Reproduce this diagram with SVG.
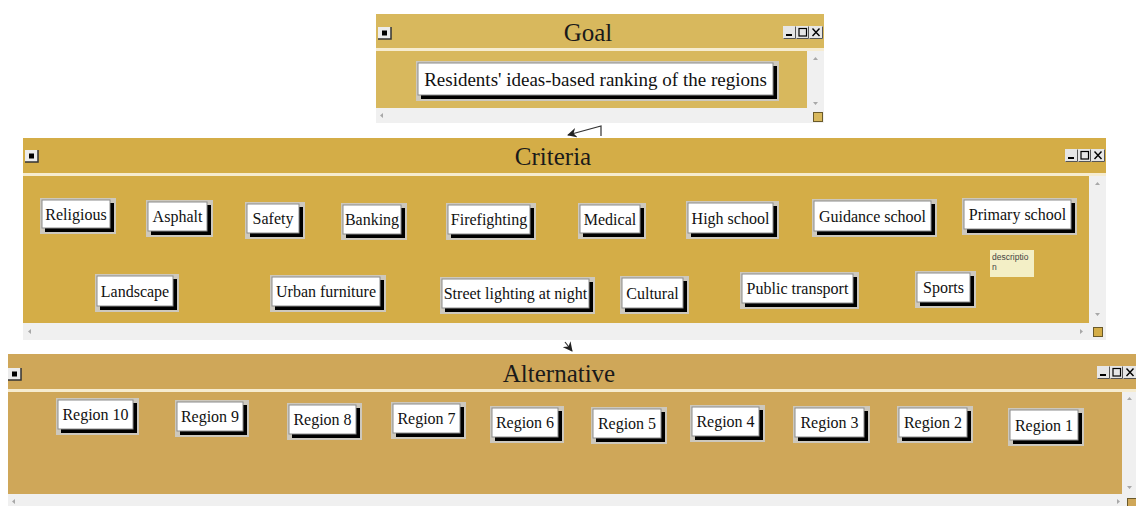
<svg xmlns="http://www.w3.org/2000/svg" width="1136" height="506" viewBox="0 0 1136 506">
<style>
.lbl{font-family:"Liberation Serif","Times New Roman",serif;font-size:16px;fill:#111;text-anchor:middle}
.ttl{font-family:"Liberation Serif","Times New Roman",serif;font-size:25px;fill:#1a1a1a;text-anchor:middle}
.halo{fill:#cdc8bd}
.shadow{fill:#000}
.face{fill:#fff;stroke:#8c8c8c;stroke-width:1}
.sep{fill:#f6ecd0}
.scr{fill:#f0f0f0}
.sarr{fill:#a8a8a8}
.conn{fill:none;stroke:#333;stroke-width:1.2}
.note{fill:#f3efc6}
.notet{font-family:"Liberation Sans",Arial,sans-serif;font-size:8.5px;fill:#444}
</style>
<defs>
<marker id="arr" viewBox="0 0 10 10" refX="9" refY="5" markerWidth="8" markerHeight="8" orient="auto"><path d="M0,0 L10,5 L0,10 L3,5z" fill="#222"/></marker>
<g id="sysbtn">
<rect x="0" y="0" width="13" height="12" fill="#ececec"/>
<path d="M0,12 H13 V0" fill="none" stroke="#333" stroke-width="1.5"/>
<rect x="4" y="3.5" width="5" height="5" fill="#000"/>
</g>
<g id="ctl">
<rect x="0" y="0" width="40" height="13" fill="#e6e6e6"/>
<path d="M0.5,12.5 H12.5 V0.5 M13.5,12.5 H25.5 V0.5 M26.5,12.5 H39.5 V0.5" fill="none" stroke="#555" stroke-width="1"/>
<rect x="3" y="8" width="6" height="2" fill="#000"/>
<rect x="16" y="2.5" width="7.5" height="7.5" fill="none" stroke="#000" stroke-width="1.2"/>
<path d="M29.5,2.5 L36.5,10 M36.5,2.5 L29.5,10" stroke="#000" stroke-width="1.4"/>
</g>
</defs>
<rect width="1136" height="506" fill="#ffffff"/>

<!-- Goal window -->
<g id="win-goal">
<rect x="376" y="14" width="448" height="34" fill="#d8b85d"/>
<rect class="sep" x="376" y="48" width="448" height="3"/>
<rect x="376" y="51" width="431" height="57" fill="#d8b85d"/>
<rect class="scr" x="807" y="51" width="17" height="57"/>
<rect class="scr" x="376" y="108" width="448" height="15"/>
<path class="sarr" d="M813,60 l2.5,-3 l2.5,3z M813,102 l2.5,3 l2.5,-3z M380,115.5 l3,-2.5 v5z M814,113 l3,2.5 l-3,2.5z"/>
<rect x="813.5" y="112.5" width="9" height="9" fill="#d8b85d" stroke="#6a5a2a" stroke-width="1"/>
<use href="#sysbtn" x="378" y="27"/>
<use href="#ctl" x="783" y="26"/>
<text class="ttl" x="588" y="41">Goal</text>
</g>

<!-- Criteria window -->
<g id="win-criteria">
<rect x="23" y="138" width="1083" height="35" fill="#d4ad47"/>
<rect class="sep" x="23" y="173" width="1083" height="3"/>
<rect x="23" y="176" width="1066" height="147" fill="#d4ad47"/>
<rect class="scr" x="1089" y="176" width="17" height="147"/>
<rect class="scr" x="23" y="323" width="1083" height="17"/>
<path class="sarr" d="M1095,185 l2.5,-3 l2.5,3z M1095,313 l2.5,3 l2.5,-3z M28,331.5 l3,-2.5 v5z M1080,329 l3,2.5 l-3,2.5z"/>
<rect x="1093.5" y="327.5" width="9" height="9" fill="#d4ad47" stroke="#6a5a2a" stroke-width="1"/>
<use href="#sysbtn" x="25" y="150"/>
<use href="#ctl" x="1065" y="149"/>
<text class="ttl" x="553" y="165">Criteria</text>
</g>

<!-- Alternative window -->
<g id="win-alternative">
<rect x="8" y="354" width="1128" height="35" fill="#cfa759"/>
<rect class="sep" x="8" y="389" width="1128" height="3"/>
<rect x="8" y="392" width="1114" height="102" fill="#cfa759"/>
<rect class="scr" x="1122" y="392" width="14" height="102"/>
<rect class="scr" x="8" y="494" width="1128" height="12"/>
<path class="sarr" d="M1127,400 l2.5,-3 l2.5,3z M1127,486 l2.5,3 l2.5,-3z M12,501.5 l3,-2.5 v5z M1117,499 l3,2.5 l-3,2.5z"/>
<rect x="1127.5" y="498.5" width="9" height="9" fill="#cfa759" stroke="#6a5a2a" stroke-width="1"/>
<use href="#sysbtn" x="8" y="368"/>
<use href="#ctl" x="1097" y="366"/>
<text class="ttl" x="559" y="382">Alternative</text>
</g>

<!-- Connectors -->
<g id="connectors">
<polyline class="conn" points="601,136 601,126 568,135" marker-end="url(#arr)"/>
<line class="conn" x1="565" y1="342" x2="572" y2="351" marker-end="url(#arr)"/>
</g>

<!-- Goal node -->
<g id="node-goal">
<rect class="halo" x="416" y="61" width="363" height="40"/>
<rect class="shadow" x="421" y="66" width="356" height="33"/>
<rect class="face" x="418" y="63" width="355" height="32"/>
<text class="lbl" style="font-size:19px" x="595.5" y="86">Residents' ideas-based ranking of the regions</text>
</g>

<!-- Criteria nodes -->
<g id="node-religious"><rect class="halo" x="40" y="198" width="76" height="36"/><rect class="shadow" x="45" y="203" width="69" height="29"/><rect class="face" x="42" y="200" width="68" height="28"/><text class="lbl" x="76" y="219.5">Religious</text></g>
<g id="node-asphalt"><rect class="halo" x="146" y="200" width="67" height="37"/><rect class="shadow" x="151" y="205" width="60" height="30"/><rect class="face" x="148" y="202" width="59" height="29"/><text class="lbl" x="177.5" y="222">Asphalt</text></g>
<g id="node-safety"><rect class="halo" x="245" y="202" width="60" height="37"/><rect class="shadow" x="250" y="207" width="53" height="30"/><rect class="face" x="247" y="204" width="52" height="29"/><text class="lbl" x="273" y="224">Safety</text></g>
<g id="node-banking"><rect class="halo" x="341" y="203" width="66" height="37"/><rect class="shadow" x="346" y="208" width="59" height="30"/><rect class="face" x="343" y="205" width="58" height="29"/><text class="lbl" x="372" y="225">Banking</text></g>
<g id="node-firefighting"><rect class="halo" x="446" y="203" width="90" height="37"/><rect class="shadow" x="451" y="208" width="83" height="30"/><rect class="face" x="448" y="205" width="82" height="29"/><text class="lbl" x="489" y="225">Firefighting</text></g>
<g id="node-medical"><rect class="halo" x="578" y="203" width="68" height="36"/><rect class="shadow" x="583" y="208" width="61" height="29"/><rect class="face" x="580" y="205" width="60" height="28"/><text class="lbl" x="610" y="224.5">Medical</text></g>
<g id="node-highschool"><rect class="halo" x="686" y="201" width="93" height="38"/><rect class="shadow" x="691" y="206" width="86" height="31"/><rect class="face" x="688" y="203" width="85" height="30"/><text class="lbl" x="730.5" y="223.5">High school</text></g>
<g id="node-guidanceschool"><rect class="halo" x="812" y="199" width="125" height="38"/><rect class="shadow" x="817" y="204" width="118" height="31"/><rect class="face" x="814" y="201" width="117" height="30"/><text class="lbl" x="872.5" y="221.5">Guidance school</text></g>
<g id="node-primaryschool"><rect class="halo" x="962" y="198" width="115" height="37"/><rect class="shadow" x="967" y="203" width="108" height="30"/><rect class="face" x="964" y="200" width="107" height="29"/><text class="lbl" x="1017.5" y="220">Primary school</text></g>

<g id="node-landscape"><rect class="halo" x="95" y="274" width="84" height="38"/><rect class="shadow" x="100" y="279" width="77" height="31"/><rect class="face" x="97" y="276" width="76" height="30"/><text class="lbl" x="135" y="296.5">Landscape</text></g>
<g id="node-urbanfurniture"><rect class="halo" x="270" y="275" width="116" height="37"/><rect class="shadow" x="275" y="280" width="109" height="30"/><rect class="face" x="272" y="277" width="108" height="29"/><text class="lbl" x="326" y="297">Urban furniture</text></g>
<g id="node-streetlighting"><rect class="halo" x="440" y="277" width="155" height="37"/><rect class="shadow" x="445" y="282" width="148" height="30"/><rect class="face" x="442" y="279" width="147" height="29"/><text class="lbl" x="515.5" y="299">Street lighting at night</text></g>
<g id="node-cultural"><rect class="halo" x="620" y="276" width="69" height="38"/><rect class="shadow" x="625" y="281" width="62" height="31"/><rect class="face" x="622" y="278" width="61" height="30"/><text class="lbl" x="652.5" y="298.5">Cultural</text></g>
<g id="node-publictransport"><rect class="halo" x="740" y="272" width="119" height="37"/><rect class="shadow" x="745" y="277" width="112" height="30"/><rect class="face" x="742" y="274" width="111" height="29"/><text class="lbl" x="797.5" y="294">Public transport</text></g>
<g id="node-sports"><rect class="halo" x="915" y="271" width="61" height="37"/><rect class="shadow" x="920" y="276" width="54" height="30"/><rect class="face" x="917" y="273" width="53" height="29"/><text class="lbl" x="943.5" y="293">Sports</text></g>

<g id="note-description"><rect class="note" x="990" y="250" width="44" height="27"/><text class="notet" x="992" y="260">descriptio</text><text class="notet" x="992" y="270">n</text></g>

<!-- Alternative nodes -->
<g id="node-region10"><rect class="halo" x="56" y="398" width="83" height="37"/><rect class="shadow" x="61" y="403" width="76" height="30"/><rect class="face" x="58" y="400" width="75" height="29"/><text class="lbl" x="95.5" y="420">Region 10</text></g>
<g id="node-region9"><rect class="halo" x="175" y="400" width="74" height="37"/><rect class="shadow" x="180" y="405" width="67" height="30"/><rect class="face" x="177" y="402" width="66" height="29"/><text class="lbl" x="210" y="422">Region 9</text></g>
<g id="node-region8"><rect class="halo" x="287" y="403" width="75" height="37"/><rect class="shadow" x="292" y="408" width="68" height="30"/><rect class="face" x="289" y="405" width="67" height="29"/><text class="lbl" x="322.5" y="425">Region 8</text></g>
<g id="node-region7"><rect class="halo" x="391" y="402" width="75" height="37"/><rect class="shadow" x="396" y="407" width="68" height="30"/><rect class="face" x="393" y="404" width="67" height="29"/><text class="lbl" x="426.5" y="424">Region 7</text></g>
<g id="node-region6"><rect class="halo" x="490" y="406" width="74" height="37"/><rect class="shadow" x="495" y="411" width="67" height="30"/><rect class="face" x="492" y="408" width="66" height="29"/><text class="lbl" x="525" y="428">Region 6</text></g>
<g id="node-region5"><rect class="halo" x="591" y="407" width="76" height="37"/><rect class="shadow" x="596" y="412" width="69" height="30"/><rect class="face" x="593" y="409" width="68" height="29"/><text class="lbl" x="627" y="429">Region 5</text></g>
<g id="node-region4"><rect class="halo" x="690" y="405" width="75" height="37"/><rect class="shadow" x="695" y="410" width="68" height="30"/><rect class="face" x="692" y="407" width="67" height="29"/><text class="lbl" x="725.5" y="427">Region 4</text></g>
<g id="node-region3"><rect class="halo" x="793" y="406" width="77" height="37"/><rect class="shadow" x="798" y="411" width="70" height="30"/><rect class="face" x="795" y="408" width="69" height="29"/><text class="lbl" x="829.5" y="428">Region 3</text></g>
<g id="node-region2"><rect class="halo" x="897" y="406" width="76" height="37"/><rect class="shadow" x="902" y="411" width="69" height="30"/><rect class="face" x="899" y="408" width="68" height="29"/><text class="lbl" x="933" y="428">Region 2</text></g>
<g id="node-region1"><rect class="halo" x="1008" y="408" width="76" height="38"/><rect class="shadow" x="1013" y="413" width="69" height="31"/><rect class="face" x="1010" y="410" width="68" height="30"/><text class="lbl" x="1044" y="430.5">Region 1</text></g>
</svg>
